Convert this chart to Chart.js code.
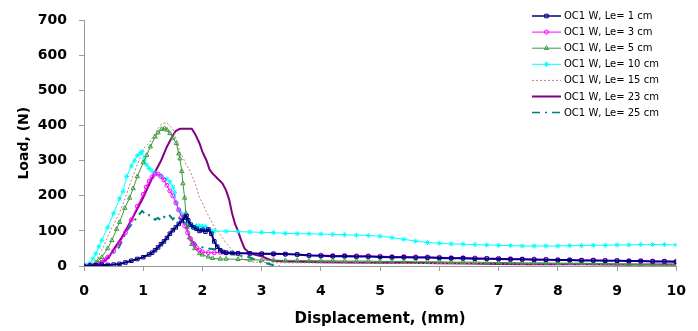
<!DOCTYPE html>
<html>
<head>
<meta charset="utf-8">
<script src="https://cdn.jsdelivr.net/npm/chart.js@4.4.1/dist/chart.umd.min.js"></script>
<style>
  html, body { margin: 0; padding: 0; background: #fff; }
  #wrap { width: 698px; height: 331px; position: relative; }
</style>
</head>
<body>
<div id="wrap"><canvas id="c" width="698" height="331"></canvas></div>
<script>
// ---- data (displacement mm, load N) ----
const xTicks = [0,1,2,3,4,5,6,7,8,9,10];
const yTicks = [0,100,200,300,400,500,600,700];

const seriesNames = [
  'OC1 W, Le= 1 cm','OC1 W, Le= 3 cm','OC1 W, Le= 5 cm','OC1 W, Le= 10 cm',
  'OC1 W, Le= 15 cm','OC1 W, Le= 23 cm','OC1 W, Le= 25 cm'
];

const le1 = [[0,0],[0.1,1],[0.2,2],[0.3,3],[0.4,3],[0.5,4],[0.6,6],[0.7,10],[0.8,15],[0.9,20],[1.0,25],
  [1.1,33],[1.15,38],[1.2,45],[1.25,53],[1.3,62],[1.35,70],[1.4,80],[1.45,92],[1.5,102],[1.55,110],[1.6,120],
  [1.65,128],[1.7,138],[1.73,143],[1.76,130],[1.8,118],[1.85,110],[1.9,106],[1.95,100],[2.0,103],[2.05,98],
  [2.1,104],[2.15,92],[2.2,70],[2.25,55],[2.3,45],[2.35,40],[2.4,38],[2.5,37],[2.6,36],[2.8,36],[3.0,35],
  [3.2,35],[3.4,34],[3.6,33],[3.8,30],[4.0,29],[4.2,28],[4.4,28],[4.6,27],[4.8,27],[5.0,26],[5.2,25],[5.4,25],
  [5.6,24],[5.8,24],[6.0,23],[6.2,22],[6.4,22],[6.6,21],[6.8,21],[7.0,20],[7.2,19],[7.4,19],[7.6,18],[7.8,18],
  [8.0,17],[8.2,17],[8.4,16],[8.6,16],[8.8,15],[9.0,15],[9.2,14],[9.4,14],[9.6,13],[9.8,13],[10.0,12]];

const le3 = [[0,0],[0.1,1],[0.2,4],[0.3,10],[0.35,17],[0.4,25],[0.5,42],[0.6,65],[0.7,95],[0.8,132],[0.9,170],
  [1.0,204],[1.05,225],[1.1,242],[1.15,254],[1.2,262],[1.25,262],[1.3,255],[1.35,245],[1.4,230],[1.45,214],
  [1.5,200],[1.55,180],[1.6,160],[1.65,140],[1.7,115],[1.75,95],[1.8,78],[1.85,64],[1.9,52],[1.95,45],[2.0,40],
  [2.1,38],[2.2,38],[2.3,39],[2.4,37],[2.6,36],[2.8,35],[3.0,34],[3.2,33],[3.4,33],[3.6,32],[3.8,31],[4.0,31],
  [4.2,30],[4.4,30],[4.6,29],[4.8,29],[5.0,28],[5.2,27],[5.4,27],[5.6,26],[5.8,26],[6.0,25],[6.2,24],[6.4,24],
  [6.6,23],[6.8,22],[7.0,22],[7.2,21],[7.4,20],[7.6,20],[7.8,19],[8.0,18],[8.2,18],[8.4,17],[8.6,17],[8.8,16],
  [9.0,16],[9.2,15],[9.4,15],[9.6,14],[9.8,14],[10.0,14]];

const le5 = [[0,0],[0.1,3],[0.2,10],[0.25,17],[0.3,25],[0.4,50],[0.47,73],[0.55,105],[0.6,125],[0.69,165],
  [0.77,194],[0.83,221],[0.9,255],[1.0,295],[1.06,316],[1.12,340],[1.2,368],[1.25,380],[1.31,390],[1.36,392],
  [1.4,388],[1.45,378],[1.5,365],[1.56,350],[1.6,320],[1.62,306],[1.65,270],[1.67,235],[1.7,194],[1.72,150],
  [1.74,110],[1.78,81],[1.82,62],[1.87,50],[1.95,36],[2.0,32],[2.1,26],[2.17,22],[2.3,20],[2.4,20],[2.6,19],
  [2.8,18],[3.0,17],[3.2,17],[3.4,16],[3.6,16],[3.8,15],[4.0,15],[4.2,15],[4.4,14],[4.6,14],[4.8,14],[5.0,13],
  [5.2,13],[5.4,13],[5.6,12],[5.8,12],[6.0,12],[6.2,11],[6.4,11],[6.6,11],[6.8,10],[7.0,10],[7.2,10],[7.4,9],
  [7.6,9],[7.8,9],[8.0,8],[8.2,8],[8.4,8],[8.6,7],[8.8,7],[9.0,6],[9.2,5],[9.4,4],[9.6,4],[9.8,3],[10.0,3]];

const le10 = [[0,0],[0.05,3],[0.1,8],[0.15,20],[0.2,35],[0.25,55],[0.3,73],[0.4,110],[0.5,150],[0.6,192],
  [0.66,213],[0.72,255],[0.8,285],[0.85,300],[0.9,315],[0.95,322],[0.98,326],[1.02,305],[1.06,288],[1.1,278],
  [1.15,270],[1.2,265],[1.3,258],[1.4,248],[1.45,240],[1.5,225],[1.53,210],[1.56,180],[1.6,160],[1.65,150],
  [1.7,140],[1.75,125],[1.8,115],[1.85,112],[1.9,115],[1.95,114],[2.0,113],[2.05,112],[2.1,105],[2.15,100],
  [2.2,100],[2.4,99],[2.6,98],[2.8,97],[3.0,96],[3.2,95],[3.4,93],[3.6,92],[3.8,92],[4.0,91],[4.2,90],[4.4,89],
  [4.6,88],[4.8,87],[5.0,85],[5.2,81],[5.4,76],[5.6,71],[5.8,67],[6.0,65],[6.2,63],[6.4,62],[6.6,61],[6.8,60],
  [7.0,59],[7.2,58],[7.4,57],[7.6,57],[7.8,57],[8.0,57],[8.2,58],[8.4,58],[8.6,59],[8.8,59],[9.0,60],[9.2,60],
  [9.4,61],[9.6,61],[9.8,61],[10.0,60]];

const le15 = [[0,0],[0.1,4],[0.2,15],[0.3,45],[0.42,92],[0.5,118],[0.59,148],[0.7,195],[0.8,245],[0.9,290],
  [0.94,306],[1.0,334],[1.11,353],[1.2,378],[1.28,400],[1.33,406],[1.39,409],[1.45,400],[1.5,390],[1.55,365],
  [1.62,325],[1.67,310],[1.72,290],[1.78,275],[1.84,250],[1.9,225],[1.95,194],[2.0,180],[2.05,160],[2.12,137],
  [2.2,112],[2.29,92],[2.4,65],[2.51,45],[2.6,30],[2.7,18],[2.8,12],[3.0,10],[3.5,9],[4.0,9],[4.5,8],[5.0,8],
  [5.5,7],[6.0,7],[6.5,7],[7.0,6],[7.5,6],[8.0,6],[8.5,5],[9.0,5],[9.5,5],[10.0,5]];

const le23 = [[0,0],[0.1,1],[0.2,5],[0.3,10],[0.42,25],[0.49,45],[0.55,60],[0.64,82],[0.77,122],[0.86,150],
  [1.0,195],[1.1,232],[1.2,268],[1.3,300],[1.4,340],[1.5,372],[1.55,385],[1.62,391],[1.7,391],[1.82,391],
  [1.88,375],[1.95,350],[2.0,325],[2.07,300],[2.12,275],[2.17,264],[2.25,250],[2.34,235],[2.4,215],[2.45,190],
  [2.5,150],[2.55,120],[2.6,100],[2.65,75],[2.71,50],[2.8,36],[2.91,31],[3.0,28],[3.1,20],[3.2,15],[3.4,13],
  [3.64,12],[4.0,11],[4.5,10],[5.0,9],[5.5,9],[6.0,8],[6.5,7],[7.0,6],[7.5,5],[8.0,5],[8.5,5],[9.0,4],[9.5,4],
  [10.0,4]];

const le25 = [[0,0],[0.05,3],[0.1,5],[0.2,6],[0.3,8],[0.4,25],[0.5,40],[0.59,53],[0.72,100],[0.81,120],
  [0.9,140],[0.98,157],[1.02,150],[1.06,143],[1.1,145],[1.15,140],[1.2,132],[1.25,137],[1.3,130],[1.35,140],
  [1.4,135],[1.45,143],[1.5,133],[1.55,142],[1.6,138],[1.65,128],[1.7,124],[1.73,118],[1.78,81],[1.85,65],
  [1.9,60],[2.0,53],[2.1,50],[2.2,48],[2.3,45],[2.4,40],[2.5,35],[2.6,30],[2.8,25],[2.9,17],[3.0,10],[3.08,8],
  [3.2,2],[3.3,0]];

// ---- styles ----
const styles = [
  {data: le1,  color:'#000080', width:2,   dash:[],        point:'rect',     r:2.5},
  {data: le3,  color:'#FF00FF', width:1,   dash:[],        point:'circle',   r:2},
  {data: le5,  color:'#3A9A3A', width:1,   dash:[],        point:'triangle', r:2.5},
  {data: le10, color:'#00FFFF', width:1,   dash:[],        point:'star',     r:2.5},
  {data: le15, color:'#C07F7F', width:1,   dash:[2,2],     point:false,      r:0},
  {data: le23, color:'#800080', width:2,   dash:[],        point:false,      r:0},
  {data: le25, color:'#008080', width:2,   dash:[8,5,2,5], point:false,      r:0}
];

const datasets = styles.map((s, i) => ({
  label: seriesNames[i],
  data: s.data.map(p => ({x: p[0], y: p[1]})),
  borderColor: s.color,
  borderWidth: s.width,
  borderDash: s.dash,
  pointStyle: s.point,
  pointRadius: s.r,
  pointBorderColor: s.color,
  pointBackgroundColor: 'rgba(255,255,255,0)',
  pointBorderWidth: 1,
  fill: false,
  tension: 0
}));

const FONT = '"DejaVu Sans", "Liberation Sans", Arial, sans-serif';

const legendPlugin = {
  id: 'customLegend',
  afterDraw(chart) {
    const ctx = chart.ctx;
    const x0 = 532, x1 = 561, tx = 564, y0 = 16, step = 16.1;
    ctx.save();
    styles.forEach((s, i) => {
      const y = y0 + i * step;
      ctx.beginPath();
      ctx.setLineDash(s.dash);
      ctx.strokeStyle = s.color;
      ctx.lineWidth = Math.min(s.width, 1.5) + (i === 5 ? 0.5 : 0);
      ctx.moveTo(x0, y);
      ctx.lineTo(x1, y);
      ctx.stroke();
      ctx.setLineDash([]);
      if (s.point) {
        ctx.strokeStyle = s.color;
        ctx.fillStyle = 'rgba(255,255,255,0)';
        ctx.lineWidth = 1;
        Chart.helpers.drawPoint(ctx, {pointStyle: s.point, radius: s.r, rotation: 0, borderWidth: 1}, (x0 + x1) / 2, y);
      }
      ctx.fillStyle = '#000';
      ctx.font = '10px ' + FONT;
      ctx.textAlign = 'left';
      ctx.textBaseline = 'middle';
      ctx.fillText(seriesNames[i], tx, y + 0.5);
    });
    ctx.restore();
  }
};

new Chart(document.getElementById('c'), {
  type: 'line',
  data: { datasets },
  plugins: [legendPlugin],
  options: {
    responsive: false,
    animation: false,
    events: [],
    layout: { padding: { top: 16, right: 20, left: 0, bottom: 0 } },
    plugins: { legend: { display: false }, tooltip: { enabled: false } },
    scales: {
      x: {
        type: 'linear', min: 0, max: 10,
        afterBuildTicks(s) { s.ticks = xTicks.map(v => ({value: v})); },
        ticks: { font: { family: FONT, size: 14, weight: 'bold' }, color: '#000', padding: 12, maxRotation: 0 },
        grid: { drawOnChartArea: false, tickLength: 5, color: '#999' },
        border: { color: '#999', width: 1 },
        title: { display: true, text: 'Displacement, (mm)', color: '#000',
                 font: { family: FONT, size: 15, weight: 'bold' }, padding: { top: 0, bottom: 3 } },
        afterFit(s) { s.height = 65; }
      },
      y: {
        type: 'linear', min: 0, max: 700,
        afterBuildTicks(s) { s.ticks = yTicks.map(v => ({value: v})); },
        ticks: { font: { family: FONT, size: 14, weight: 'bold' }, color: '#000', padding: 12 },
        grid: { drawOnChartArea: false, tickLength: 5, color: '#999' },
        border: { color: '#999', width: 1 },
        title: { display: true, text: 'Load, (N)', color: '#000',
                 font: { family: FONT, size: 14, weight: 'bold' }, padding: { top: 16, bottom: 0 } },
        afterFit(s) { s.width = 84; }
      }
    }
  }
});
</script>
</body>
</html>
